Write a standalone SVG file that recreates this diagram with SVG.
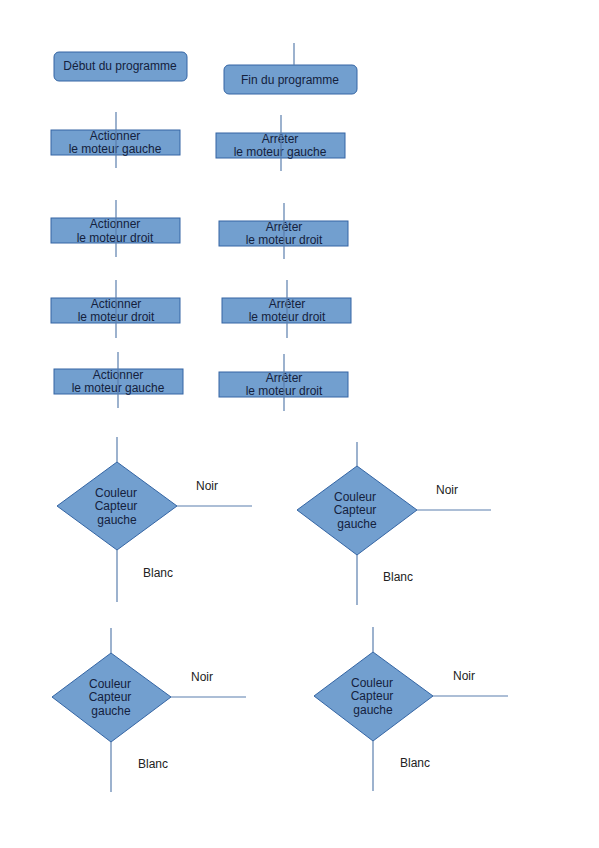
<svg xmlns="http://www.w3.org/2000/svg" width="599" height="848" viewBox="0 0 599 848">
<style>
.box{fill:#729fcf;stroke:#3465a4;stroke-width:1}
.t{font-family:"Liberation Sans",Arial,sans-serif;font-size:12px;fill:#14213d;text-anchor:middle}
.lbl{font-family:"Liberation Sans",Arial,sans-serif;font-size:12px;fill:#222}
.c{stroke:#5b7fae;stroke-width:1.2;fill:none}
</style>
<rect width="599" height="848" fill="#ffffff"/>
<g id="debut"><rect class="box" x="54" y="52" width="133" height="29" rx="5"/><text class="t" x="120" y="70">Début du programme</text></g>
<g id="fin"><rect class="box" x="224" y="65" width="133" height="29" rx="5"/><text class="t" x="290" y="84">Fin du programme</text></g>
<g id="act1"><rect class="box" x="51" y="130" width="129" height="25"/><text class="t" x="115" y="140">Actionner</text><text class="t" x="115" y="153">le moteur gauche</text></g>
<g id="arr1"><rect class="box" x="216" y="133" width="129" height="25"/><text class="t" x="280" y="143">Arrêter</text><text class="t" x="280" y="156">le moteur gauche</text></g>
<g id="act2"><rect class="box" x="51" y="218" width="129" height="25"/><text class="t" x="115" y="228">Actionner</text><text class="t" x="115" y="242">le moteur droit</text></g>
<g id="arr2"><rect class="box" x="219" y="221" width="129" height="25"/><text class="t" x="284" y="231">Arrêter</text><text class="t" x="284" y="244">le moteur droit</text></g>
<g id="act3"><rect class="box" x="51" y="298" width="129" height="25"/><text class="t" x="116" y="308">Actionner</text><text class="t" x="116" y="321">le moteur droit</text></g>
<g id="arr3"><rect class="box" x="222" y="298" width="129" height="25"/><text class="t" x="287" y="308">Arrêter</text><text class="t" x="287" y="321">le moteur droit</text></g>
<g id="act4"><rect class="box" x="54" y="369" width="129" height="25"/><text class="t" x="118" y="379">Actionner</text><text class="t" x="118" y="392">le moteur gauche</text></g>
<g id="arr4"><rect class="box" x="219" y="372" width="129" height="25"/><text class="t" x="284" y="382">Arrêter</text><text class="t" x="284" y="395">le moteur droit</text></g>
<g id="dec1"><polygon class="box" points="117,462 177,506 117,550 57,506"/><text class="t" x="116" y="497">Couleur</text><text class="t" x="116" y="510">Capteur</text><text class="t" x="117" y="524">gauche</text></g>
<g id="dec2"><polygon class="box" points="357,466 417,510 357,555 297,510"/><text class="t" x="355" y="501">Couleur</text><text class="t" x="355" y="514">Capteur</text><text class="t" x="357" y="528">gauche</text></g>
<g id="dec3"><polygon class="box" points="111,653 171,697 111,742 52,697"/><text class="t" x="110" y="688">Couleur</text><text class="t" x="110" y="701">Capteur</text><text class="t" x="111" y="715">gauche</text></g>
<g id="dec4"><polygon class="box" points="373,652 433,696 373,741 314,696"/><text class="t" x="372" y="687">Couleur</text><text class="t" x="372" y="700">Capteur</text><text class="t" x="373" y="714">gauche</text></g>
<g id="connectors">
<line class="c" x1="294" y1="43" x2="294" y2="65"/>
<line class="c" x1="116" y1="112" x2="116" y2="168"/>
<line class="c" x1="281" y1="115" x2="281" y2="171"/>
<line class="c" x1="116" y1="200" x2="116" y2="257"/>
<line class="c" x1="284" y1="203" x2="284" y2="259"/>
<line class="c" x1="116" y1="280" x2="116" y2="338"/>
<line class="c" x1="287" y1="280" x2="287" y2="338"/>
<line class="c" x1="118" y1="352" x2="118" y2="408"/>
<line class="c" x1="284" y1="354" x2="284" y2="411"/>
<line class="c" x1="117" y1="437" x2="117" y2="462"/>
<line class="c" x1="177" y1="506" x2="252" y2="506"/>
<line class="c" x1="117" y1="550" x2="117" y2="602"/>
<line class="c" x1="357" y1="442" x2="357" y2="466"/>
<line class="c" x1="417" y1="510" x2="491" y2="510"/>
<line class="c" x1="357" y1="555" x2="357" y2="605"/>
<line class="c" x1="111" y1="628" x2="111" y2="653"/>
<line class="c" x1="171" y1="697" x2="246" y2="697"/>
<line class="c" x1="111" y1="742" x2="111" y2="792"/>
<line class="c" x1="373" y1="627" x2="373" y2="652"/>
<line class="c" x1="433" y1="696" x2="508" y2="696"/>
<line class="c" x1="373" y1="741" x2="373" y2="791"/>
</g>
<g id="labels">
<text class="lbl" x="196" y="490">Noir</text>
<text class="lbl" x="143" y="577">Blanc</text>
<text class="lbl" x="436" y="494">Noir</text>
<text class="lbl" x="383" y="581">Blanc</text>
<text class="lbl" x="191" y="681">Noir</text>
<text class="lbl" x="138" y="768">Blanc</text>
<text class="lbl" x="453" y="680">Noir</text>
<text class="lbl" x="400" y="767">Blanc</text>
</g>
</svg>
